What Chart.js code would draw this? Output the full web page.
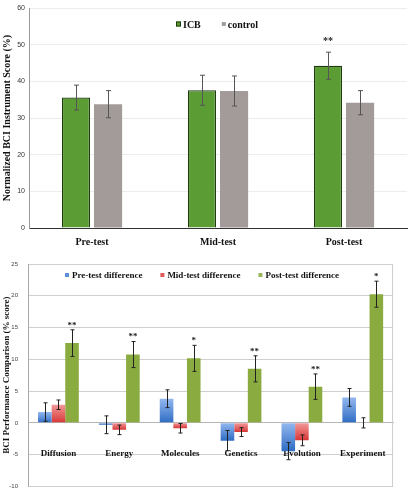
<!DOCTYPE html>
<html>
<head>
<meta charset="utf-8">
<script src="https://cdn.jsdelivr.net/npm/chart.js@4.4.1/dist/chart.umd.min.js"></script>
<style>
  html, body { margin: 0; padding: 0; background: #fff; }
  .panel { position: absolute; left: 0; width: 411px; height: 250px; }
  #topPanel { top: 0; }
  #bottomPanel { top: 250px; }
</style>
</head>
<body>
<div class="panel" id="topPanel"><canvas id="scoreChart"></canvas></div>
<div class="panel" id="bottomPanel"><canvas id="diffChart"></canvas></div>
<script>
// top panel: normalized BCI instrument score
const testPhases = ['Pre-test', 'Mid-test', 'Post-test'];
const icbScore = [35.6, 37.6, 44.3];
const icbError = [3.4, 4.1, 3.7];
const icbStars = ['', '', '**'];
const controlScore = [33.8, 37.4, 34.2];
const controlError = [3.7, 4.1, 3.3];
const scoreTicks = [0, 10, 20, 30, 40, 50, 60];

// bottom panel: performance difference per concept
const concepts = ['Diffusion', 'Energy', 'Molecules', 'Genetics', 'Evolution', 'Experiment'];
const preDiff = [1.7, -0.3, 3.8, -2.8, -4.45, 4.0];
const preDiffError = [1.45, 1.4, 1.4, 1.6, 1.35, 1.4];
const midDiff = [2.85, -1.1, -0.85, -1.45, -2.75, 0];
const midDiffError = [0.75, 0.75, 0.75, 0.7, 0.85, 0.8];
const postDiff = [12.55, 10.75, 10.15, 8.5, 5.7, 20.25];
const postDiffError = [2.1, 2.05, 2.05, 2.05, 2.0, 2.05];
const postDiffStars = ['**', '**', '*', '**', '**', '*'];
const diffTicks = [-10, -5, 0, 5, 10, 15, 20, 25];

const SERIF = "'Liberation Serif', 'Times New Roman', serif";
const SANS = "'Liberation Sans', Arial, sans-serif";

// error bars + significance stars, drawn from the dataset values
const errorBarPlugin = {
    id: 'errorBars',
    afterDatasetsDraw(chart, args, opts) {
        const ctx = chart.ctx;
        const yScale = chart.scales.y;
        chart.data.datasets.forEach((ds, di) => {
            if (!ds.errors) return;
            const meta = chart.getDatasetMeta(di);
            meta.data.forEach((bar, i) => {
                const v = ds.data[i];
                const e = ds.errors[i];
                const yTop = yScale.getPixelForValue(v + e);
                const yBot = yScale.getPixelForValue(v - e);
                const x = Math.round(bar.x) + 0.5;
                ctx.save();
                ctx.strokeStyle = opts.color;
                ctx.lineWidth = opts.width;
                ctx.beginPath();
                ctx.moveTo(x, yTop); ctx.lineTo(x, yBot);
                ctx.moveTo(x - opts.cap, yTop); ctx.lineTo(x + opts.cap, yTop);
                ctx.moveTo(x - opts.cap, yBot); ctx.lineTo(x + opts.cap, yBot);
                ctx.stroke();
                if (ds.stars && ds.stars[i]) {
                    ctx.fillStyle = '#222';
                    ctx.font = opts.starFont;
                    ctx.textAlign = 'center';
                    ctx.textBaseline = 'bottom';
                    ctx.fillText(ds.stars[i], bar.x, yTop - opts.starGap);
                }
                ctx.restore();
            });
        });
    }
};

// legend drawn inside the plot area, like the original
const keyPlugin = {
    id: 'key',
    afterDraw(chart, args, opts) {
        const ctx = chart.ctx;
        let x = opts.x;
        ctx.save();
        ctx.font = opts.font;
        ctx.textAlign = 'left';
        ctx.textBaseline = 'middle';
        chart.data.datasets.forEach(ds => {
            const s = ds.keySize || opts.box;
            ctx.fillStyle = ds.keyColor;
            ctx.fillRect(x, opts.y - s / 2 - 1, s, s);
            if (ds.keyBorder) {
                ctx.strokeStyle = ds.keyBorder;
                ctx.lineWidth = 1;
                ctx.strokeRect(x + 0.5, opts.y - s / 2 - 0.5, s - 1, s - 1);
            }
            x += s + opts.textGap;
            ctx.fillStyle = '#111';
            ctx.fillText(ds.label, x, opts.y);
            x += ctx.measureText(ds.label).width + opts.gap;
        });
        ctx.restore();
    }
};

// thin outline on the right side of the lower panel
const frameplugin = {
    id: 'frame',
    beforeDatasetsDraw(chart, args, opts) {
        if (!opts.color) return;
        const {ctx, chartArea} = chart;
        ctx.save();
        ctx.strokeStyle = opts.color;
        ctx.lineWidth = 1;
        ctx.beginPath();
        ctx.moveTo(Math.round(chartArea.right) - 0.5, chartArea.top);
        ctx.lineTo(Math.round(chartArea.right) - 0.5, chartArea.bottom);
        ctx.stroke();
        ctx.restore();
    }
};

function barGradient(light, dark) {
    return (c) => {
        const chart = c.chart;
        if (!chart.chartArea || c.dataIndex === undefined) return dark;
        const v = c.raw;
        const y = chart.scales.y;
        const y1 = y.getPixelForValue(Math.max(v, 0));
        const y2 = y.getPixelForValue(Math.min(v, 0));
        if (!(y2 - y1 > 1)) return dark;
        const g = chart.ctx.createLinearGradient(0, y1, 0, y2);
        g.addColorStop(0, light);
        g.addColorStop(1, dark);
        return g;
    };
}

new Chart(document.getElementById('scoreChart'), {
    type: 'bar',
    data: {
        labels: testPhases,
        datasets: [
            {
                label: 'ICB',
                data: icbScore,
                errors: icbError,
                stars: icbStars,
                backgroundColor: '#5b9c35',
                borderColor: '#1f3a12',
                borderWidth: 1.2,
                keyColor: '#5b9c35',
                keyBorder: '#1f3a12',
                keySize: 5,
                barPercentage: 0.875,
                categoryPercentage: 0.51
            },
            {
                label: 'control',
                data: controlScore,
                errors: controlError,
                backgroundColor: '#a39b99',
                borderWidth: 0,
                keyColor: '#a39b99',
                keySize: 4,
                barPercentage: 0.875,
                categoryPercentage: 0.51
            }
        ]
    },
    options: {
        responsive: true,
        maintainAspectRatio: false,
        animation: false,
        layout: { padding: { top: 5, right: 4, left: 0, bottom: 0 } },
        plugins: {
            legend: { display: false },
            tooltip: { enabled: false },
            errorBars: { color: '#555', width: 1, cap: 2.5, starFont: 'bold 10px ' + SERIF, starGap: 6 },
            key: { x: 176, y: 25, box: 5, textGap: 2, gap: 21, font: 'bold 10px ' + SERIF }
        },
        scales: {
            x: {
                grid: { display: false, drawTicks: false },
                border: { color: '#333', width: 1 },
                ticks: { font: { family: SERIF, weight: 'bold', size: 10 }, color: '#111', padding: 8 },
                afterFit: s => { s.height = 22; }
            },
            y: {
                min: scoreTicks[0],
                max: scoreTicks[scoreTicks.length - 1],
                ticks: { stepSize: scoreTicks[1] - scoreTicks[0], font: { family: SANS, size: 7 }, color: '#333', padding: 4 },
                grid: { color: '#ececec', drawTicks: false },
                border: { color: '#9a9a9a' },
                title: {
                    display: true,
                    text: 'Normalized BCI Instrument Score (%)',
                    font: { family: SERIF, weight: 'bold', size: 10 },
                    color: '#111',
                    padding: { top: 1, bottom: 0 }
                },
                afterFit: s => { s.width = 29; }
            }
        }
    },
    plugins: [errorBarPlugin, keyPlugin]
});

new Chart(document.getElementById('diffChart'), {
    type: 'bar',
    data: {
        labels: concepts,
        datasets: [
            {
                label: 'Pre-test difference',
                data: preDiff,
                errors: preDiffError,
                backgroundColor: barGradient('#93b8ef', '#2f6cc3'),
                keyColor: '#5d8fd9'
            },
            {
                label: 'Mid-test difference',
                data: midDiff,
                errors: midDiffError,
                backgroundColor: barGradient('#f39a9a', '#d73535'),
                keyColor: '#e25b5b'
            },
            {
                label: 'Post-test difference',
                data: postDiff,
                errors: postDiffError,
                stars: postDiffStars,
                backgroundColor: '#8aab3f',
                keyColor: '#9bb560'
            }
        ]
    },
    options: {
        responsive: true,
        maintainAspectRatio: false,
        animation: false,
        datasets: { bar: { barPercentage: 1, categoryPercentage: 0.67, borderWidth: 0 } },
        layout: { padding: { top: 14, right: 6, left: 0, bottom: 5 } },
        plugins: {
            legend: { display: false },
            tooltip: { enabled: false },
            errorBars: { color: '#222', width: 1, cap: 2, starFont: 'bold 9px ' + SERIF, starGap: 0 },
            key: { x: 65, y: 26, box: 4, textGap: 3, gap: 18, font: 'bold 9px ' + SERIF },
            frame: { color: '#cfcfcf' }
        },
        scales: {
            x: {
                position: { y: 0 },
                z: 1,
                grid: { display: false, drawTicks: false },
                border: { color: '#b5b5b5', width: 1 },
                ticks: { font: { family: SERIF, weight: 'bold', size: 9 }, color: '#111', padding: 25 }
            },
            y: {
                min: diffTicks[0],
                max: diffTicks[diffTicks.length - 1],
                ticks: { stepSize: diffTicks[1] - diffTicks[0], font: { family: SANS, size: 6 }, color: '#444', padding: 10 },
                grid: { color: '#cfcfcf', drawTicks: false },
                border: { color: '#a8a8a8' },
                title: {
                    display: true,
                    text: 'BCI Performance Comparison (% score)',
                    font: { family: SERIF, weight: 'bold', size: 9 },
                    color: '#111',
                    padding: { top: 1, bottom: 0 }
                },
                afterFit: s => { s.width = 28; }
            }
        }
    },
    plugins: [errorBarPlugin, keyPlugin, frameplugin]
});
</script>
</body>
</html>
